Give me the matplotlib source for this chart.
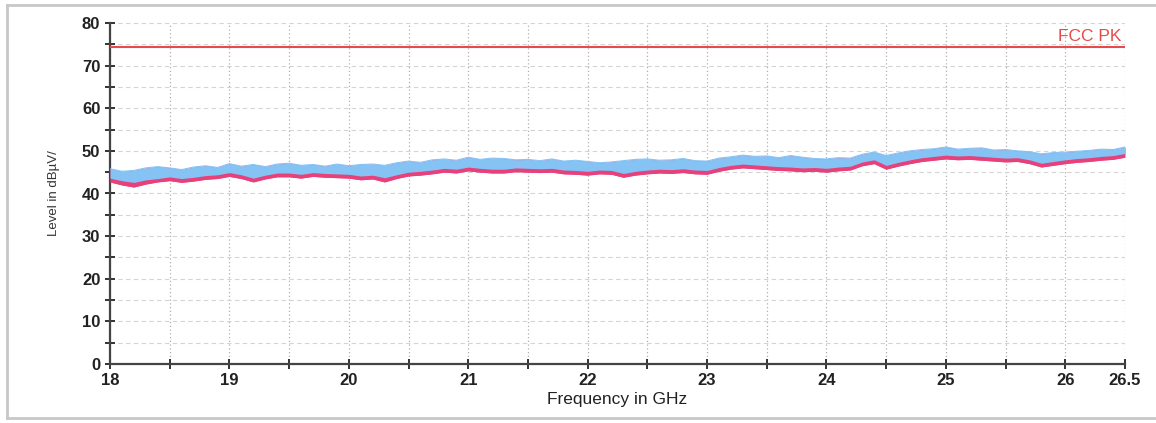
import numpy as np
import matplotlib.pyplot as plt
from matplotlib.ticker import MultipleLocator, FixedLocator

plt.rcParams['font.family'] = ['Liberation Sans', 'DejaVu Sans']

# frequency axis in GHz, 0.1 GHz steps
freq = np.arange(18.0, 26.55, 0.1)[:86]

# blue trace (upper edge / lower edge)
blue_top = [45.8, 45.2, 45.4, 46.0, 46.3, 46.0, 45.6, 46.2, 46.5, 46.1,
            47.0, 46.4, 46.8, 46.3, 46.9, 47.1, 46.6, 46.8, 46.4, 46.9,
            46.5, 46.8, 46.9, 46.6, 47.2, 47.6, 47.3, 47.9, 48.1, 47.8,
            48.5, 48.0, 48.3, 48.2, 47.9, 48.0, 47.7, 48.1, 47.6, 47.8,
            47.5, 47.2, 47.4, 47.7, 48.0, 48.1, 47.8, 47.9, 48.2, 47.7,
            47.6, 48.3, 48.6, 49.0, 48.7, 48.8, 48.4, 48.9, 48.5, 48.2,
            48.1, 48.4, 48.3, 49.2, 49.7, 48.9, 49.5, 50.0, 50.3, 50.5,
            50.9, 50.4, 50.6, 50.7, 50.2, 50.3, 50.0, 49.8, 49.3, 49.6,
            49.7, 49.9, 50.1, 50.4, 50.3, 50.9]
blue_bottom = [43.6, 43.0, 42.6, 43.2, 43.5, 43.9, 43.5, 43.8, 44.2, 44.4,
               44.9, 44.4, 43.6, 44.3, 44.8, 44.8, 44.5, 44.9, 44.7, 44.6,
               44.5, 44.1, 44.3, 43.7, 44.4, 45.0, 45.2, 45.5, 45.9, 45.7,
               46.2, 45.9, 45.7, 45.7, 46.0, 45.9, 45.8, 45.9, 45.5, 45.4,
               45.2, 45.5, 45.4, 44.7, 45.2, 45.5, 45.7, 45.6, 45.8, 45.5,
               45.4, 46.1, 46.6, 46.9, 46.7, 46.5, 46.3, 46.2, 46.0, 46.1,
               45.9, 46.2, 46.4, 47.4, 47.9, 46.6, 47.3, 47.9, 48.4, 48.7,
               49.0, 48.8, 48.9, 48.7, 48.5, 48.3, 48.4, 47.9, 47.1, 47.5,
               47.9, 48.2, 48.4, 48.7, 48.9, 49.4]
# pink trace lower edge
pink_bottom = [42.7, 42.0, 41.5, 42.2, 42.7, 43.0, 42.6, 42.9, 43.3, 43.5,
               44.0, 43.5, 42.7, 43.4, 43.9, 43.9, 43.6, 44.0, 43.8, 43.7,
               43.6, 43.2, 43.4, 42.7, 43.5, 44.1, 44.3, 44.6, 45.0, 44.8,
               45.3, 45.0, 44.8, 44.8, 45.1, 45.0, 44.9, 45.0, 44.6, 44.5,
               44.3, 44.6, 44.5, 43.8, 44.3, 44.6, 44.8, 44.7, 44.9, 44.6,
               44.5, 45.2, 45.7, 46.0, 45.8, 45.6, 45.4, 45.3, 45.1, 45.2,
               45.0, 45.3, 45.5, 46.5, 47.0, 45.7, 46.4, 47.0, 47.5, 47.8,
               48.1, 47.9, 48.0, 47.8, 47.6, 47.4, 47.5, 47.0, 46.2, 46.6,
               47.0, 47.3, 47.5, 47.8, 48.0, 48.5]

limit_freq = [18.0, 26.5]
limit_level = [74.3, 74.3]
limit_name = 'FCC PK'

x_labels = ['18', '19', '20', '21', '22', '23', '24', '25', '26', '26.5']
x_label_pos = [18, 19, 20, 21, 22, 23, 24, 25, 26, 26.5]

fig = plt.figure(figsize=(11.56, 4.23), dpi=100)
ax = fig.add_axes([110 / 1156, 1 - 364 / 423, 1015 / 1156, 341 / 423])

# outer frame
fig.add_artist(plt.Line2D([7 / 1156, 1.0], [1 - 5 / 423] * 2, color='#c8c8c8', lw=2))
fig.add_artist(plt.Line2D([7 / 1156, 1.0], [1 - 418 / 423] * 2, color='#c8c8c8', lw=2))
fig.add_artist(plt.Line2D([7 / 1156] * 2, [1 - 5 / 423, 1 - 418 / 423], color='#c8c8c8', lw=2))

pink = '#e8407a'
blue = '#85c3f5'
ax.fill_between(freq, pink_bottom, blue_top, color=pink, lw=0, zorder=3)
ax.plot(freq, pink_bottom, color=pink, lw=0.5, zorder=3)
ax.fill_between(freq, blue_bottom, blue_top, color=blue, lw=0, zorder=4)
ax.plot(freq, blue_top, color=blue, lw=0.8, zorder=4)

ax.plot(limit_freq, limit_level, color='#e84a4a', lw=1.5, zorder=5)
ax.text(26.47, 75.0, limit_name, color='#e84a4a', fontsize=12.5, ha='right', va='bottom')

ax.set_xlim(18, 26.5)
ax.set_ylim(0, 80)
ax.yaxis.set_major_locator(MultipleLocator(10))
ax.yaxis.set_minor_locator(MultipleLocator(5))
ax.xaxis.set_major_locator(FixedLocator(x_label_pos))
ax.set_xticklabels(x_labels)
ax.xaxis.set_minor_locator(MultipleLocator(0.5))

ax.grid(True, which='both', axis='y', color='#d4d4d4', ls=(0, (4, 3)), lw=0.8)
ax.grid(True, which='both', axis='x', color='#b0b0b0', ls=(0, (1, 2)), lw=0.9)

for s in ['top', 'right']:
    ax.spines[s].set_visible(False)
for s in ['left', 'bottom']:
    ax.spines[s].set_color('#444444')
    ax.spines[s].set_linewidth(1.6)
ax.tick_params(which='both', direction='inout', length=7, width=1.4, color='#333333')
ax.tick_params(labelsize=12, labelcolor='#222222')
ax.tick_params(axis='x', pad=3)
for lbl in ax.get_xticklabels() + ax.get_yticklabels():
    lbl.set_fontweight('bold')

ax.set_ylabel('Level in dBµV/', fontsize=9.5, color='#333333', labelpad=16)
ax.set_xlabel('Frequency in GHz', fontsize=12.5, color='#222222', labelpad=3)

fig.savefig('out.png', dpi=100)
